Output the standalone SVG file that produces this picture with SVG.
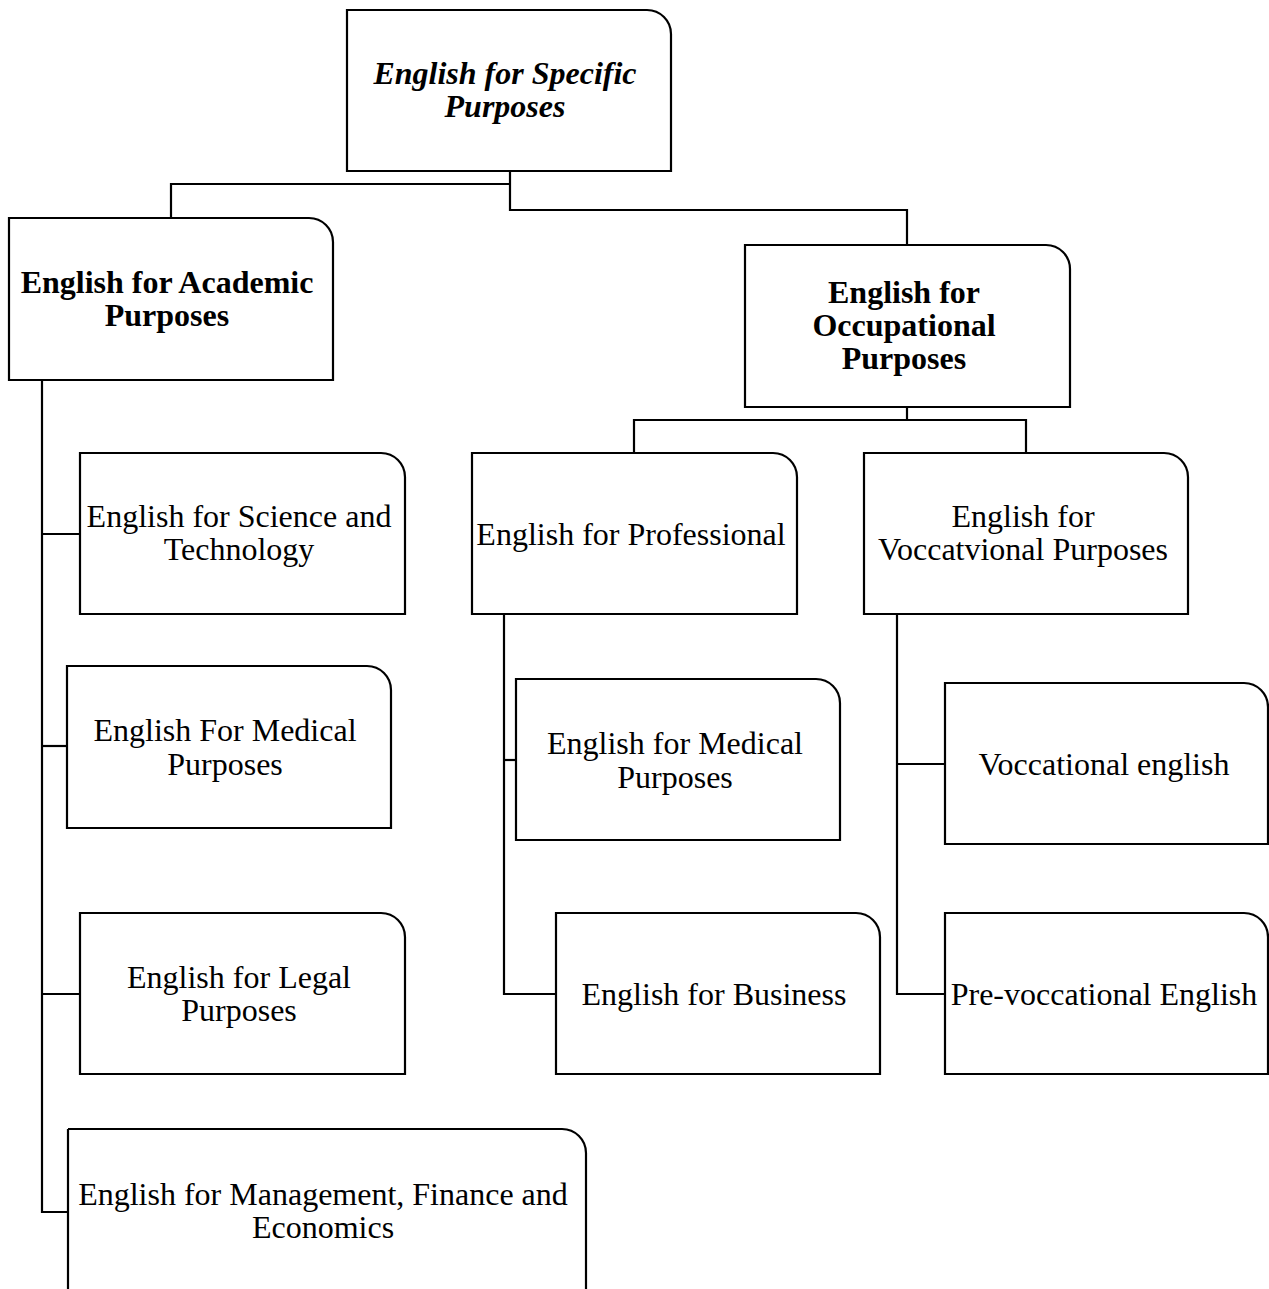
<svg xmlns="http://www.w3.org/2000/svg" width="1269" height="1289" viewBox="0 0 1269 1289">
<style>
.box{fill:#fff;stroke:#000;stroke-width:2.2}
.ln{fill:none;stroke:#000;stroke-width:2.2}
text{font-family:"Liberation Serif","Times New Roman",serif;font-size:32px;fill:#000;text-anchor:middle}
.b{font-weight:bold}
.bi{font-weight:bold;font-style:italic}
</style>
<rect width="1269" height="1289" fill="#fff"/>
<g id="connectors">
<polyline class="ln" points="510,172 510,210 907,210 907,245"/>
<polyline class="ln" points="510,184 171,184 171,218"/>
<polyline class="ln" points="42,380 42,1212 68,1212"/>
<line class="ln" x1="42" y1="534" x2="80" y2="534"/>
<line class="ln" x1="42" y1="746" x2="67" y2="746"/>
<line class="ln" x1="42" y1="994" x2="80" y2="994"/>
<polyline class="ln" points="907,407 907,420"/>
<polyline class="ln" points="634,453 634,420 1026,420 1026,453"/>
<polyline class="ln" points="504,614 504,994 556,994"/>
<line class="ln" x1="504" y1="760" x2="516" y2="760"/>
<polyline class="ln" points="897,614 897,994 945,994"/>
<line class="ln" x1="897" y1="764" x2="945" y2="764"/>
</g>
<g id="esp">
<path class="box" d="M347,10 H647 A24,24 0 0 1 671,34 V171 H347 Z"/>
<text class="bi" x="505" y="84">English for Specific</text>
<text class="bi" x="505" y="117">Purposes</text>
</g>
<g id="eap">
<path class="box" d="M9,218 H309 A24,24 0 0 1 333,242 V380 H9 Z"/>
<text class="b" x="167" y="293">English for Academic</text>
<text class="b" x="167" y="326">Purposes</text>
</g>
<g id="eop">
<path class="box" d="M745,245 H1046 A24,24 0 0 1 1070,269 V407 H745 Z"/>
<text class="b" x="904" y="303">English for</text>
<text class="b" x="904" y="336">Occupational</text>
<text class="b" x="904" y="369">Purposes</text>
</g>
<g id="est">
<path class="box" d="M80,453 H381 A24,24 0 0 1 405,477 V614 H80 Z"/>
<text x="239" y="527">English for Science and</text>
<text x="239" y="560">Technology</text>
</g>
<g id="emp-academic">
<path class="box" d="M67,666 H367 A24,24 0 0 1 391,690 V828 H67 Z"/>
<text x="225" y="741">English For Medical</text>
<text x="225" y="775">Purposes</text>
</g>
<g id="elp">
<path class="box" d="M80,913 H381 A24,24 0 0 1 405,937 V1074 H80 Z"/>
<text x="239" y="988">English for Legal</text>
<text x="239" y="1021">Purposes</text>
</g>
<g id="emfe">
<path class="box" d="M68,1129 H562 A24,24 0 0 1 586,1153 V1300 M68,1300 V1129"/>
<text x="323" y="1205">English for Management, Finance and</text>
<text x="323" y="1238">Economics</text>
</g>
<g id="professional">
<path class="box" d="M472,453 H773 A24,24 0 0 1 797,477 V614 H472 Z"/>
<text x="631" y="545">English for Professional</text>
</g>
<g id="emp-professional">
<path class="box" d="M516,679 H816 A24,24 0 0 1 840,703 V840 H516 Z"/>
<text x="675" y="754">English for Medical</text>
<text x="675" y="788">Purposes</text>
</g>
<g id="business">
<path class="box" d="M556,913 H856 A24,24 0 0 1 880,937 V1074 H556 Z"/>
<text x="714" y="1005">English for Business</text>
</g>
<g id="evp">
<path class="box" d="M864,453 H1164 A24,24 0 0 1 1188,477 V614 H864 Z"/>
<text x="1023" y="527">English for</text>
<text x="1023" y="560">Voccatvional Purposes</text>
</g>
<g id="vocational">
<path class="box" d="M945,683 H1244 A24,24 0 0 1 1268,707 V844 H945 Z"/>
<text x="1104" y="775">Voccational english</text>
</g>
<g id="prevocational">
<path class="box" d="M945,913 H1244 A24,24 0 0 1 1268,937 V1074 H945 Z"/>
<text x="1104" y="1005">Pre-voccational English</text>
</g>
</svg>
